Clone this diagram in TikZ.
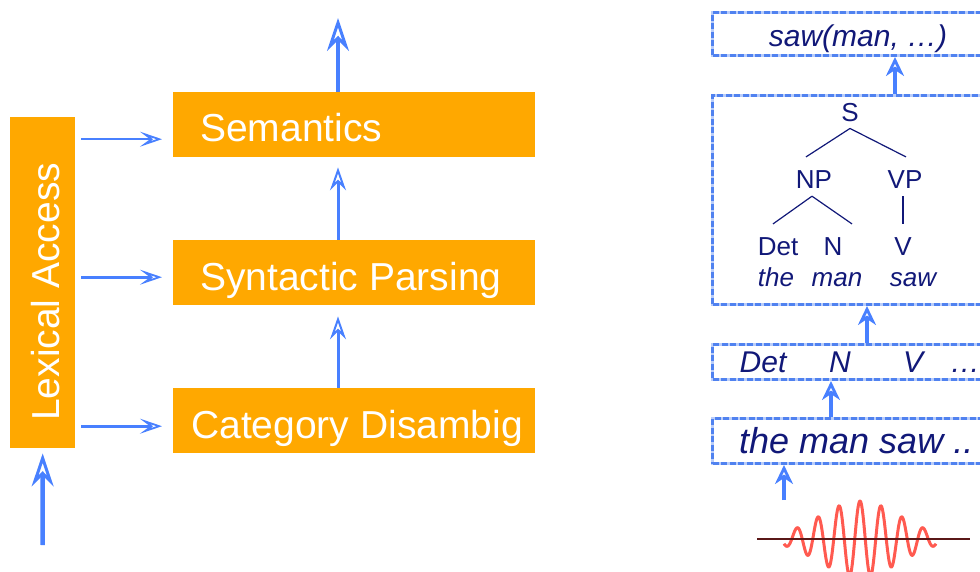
\documentclass[tikz,border=0pt]{standalone}
\usepackage{fontspec}
\setmainfont{Liberation Sans}
\usetikzlibrary{arrows.meta}
\definecolor{boxorange}{RGB}{255,168,0}
\definecolor{flowblue}{RGB}{72,128,255}
\definecolor{dashblue}{RGB}{80,130,240}
\definecolor{dashpale}{RGB}{185,205,250}
\definecolor{inkblue}{RGB}{17,24,120}
\definecolor{wavered}{RGB}{255,90,80}
\definecolor{axisbrown}{RGB}{90,24,24}
\begin{document}
\begin{tikzpicture}[x=1pt,y=-1pt,
  stage/.style={fill=boxorange, draw=none, inner sep=0pt, anchor=north west,
    minimum width=362pt, minimum height=65pt},
  stagetext/.style={text=white, font=\fontsize{39}{39}\selectfont, inner sep=0pt, anchor=base west},
  feed/.style={flowblue, line width=2.6pt,
    -{Stealth[open,length=22pt,width=15pt,inset=10pt,line width=1.8pt]}},
  upflow/.style={flowblue, line width=3pt,
    -{Stealth[open,length=23pt,width=16pt,inset=8pt,line width=2pt]}},
  bigflow/.style={flowblue, line width=4.5pt,
    -{Stealth[open,length=33pt,width=22pt,inset=11pt,line width=3pt]}},
  rightflow/.style={flowblue, line width=4.5pt,
    -{Stealth[open,length=19pt,width=18pt,inset=6pt,line width=2.8pt]}},
  dbox/.style={draw=dashpale, line width=3pt, anchor=north west, inner sep=0pt,
    minimum width=279pt,
    postaction={draw=dashblue, line width=3pt, dash pattern=on 6pt off 2.5pt}},
  tlabel/.style={text=inkblue, font=\fontsize{26}{26}\selectfont, inner sep=0pt, anchor=base},
  tword/.style={tlabel, font=\fontsize{26}{26}\selectfont\itshape},
  rowtext/.style={text=inkblue, font=\fontsize{30}{30}\selectfont\itshape, inner sep=0pt},
  branch/.style={draw=inkblue, line width=1.2pt},
]
\useasboundingbox (0,0) rectangle (980,572);
\clip (0,0) rectangle (980,572);

% ---------- processing pipeline ----------
\node[fill=boxorange, inner sep=0pt, anchor=north west, minimum width=65pt, minimum height=331pt] (lex) at (10,117) {};
\node[stagetext, rotate=90] (lexT) at (59,421) {Lexical Access};

\node[stage] (sem) at (173,92) {};
\node[stagetext] (semT) at (200,142) {Semantics};
\node[stage] (syn) at (173,240) {};
\node[stagetext] (synT) at (200,290) {Syntactic Parsing};
\node[stage] (cat) at (173,388) {};
\node[stagetext] (catT) at (191,438) {Category Disambig};

% lexical lookups feed every stage
\draw[feed] ([shift={(6,14.5)}]lex.east |- sem.west) -- ([shift={(-11,14.5)}]sem.west);
\draw[feed] ([shift={(6,4.5)}]lex.east |- syn.west) -- ([shift={(-11,4.5)}]syn.west);
\draw[feed] ([shift={(6,5.5)}]lex.east |- cat.west) -- ([shift={(-11,5.5)}]cat.west);

% stage to stage
\draw[upflow] ([xshift=165pt]cat.north west) -- ([shift={(165,11)}]syn.south west);
\draw[upflow] ([xshift=165pt]syn.north west) -- ([shift={(165,10)}]sem.south west);

% input and output
\coordinate (lexin) at (42.5,545);
\coordinate (semout) at (338,18);
\draw[bigflow] (lexin) -- ([shift={(0,5)}]lex.south);
\draw[bigflow] ([xshift=165pt]sem.north west) -- (semout);

% ---------- worked example ----------
\node[dbox, minimum height=43pt] (logic) at (711,11) {};
\node[dbox, minimum height=209pt] (tree) at (711,94) {};
\node[dbox, minimum height=35pt] (tags) at (711,343) {};
\node[dbox, minimum height=45pt] (words) at (711,417) {};

\node[rowtext, anchor=base] (logicT) at (858,47) {saw(man, …)};

\node[tlabel] (S) at (850,122) {S};
\node[tlabel] (NP) at (814,189) {NP};
\node[tlabel] (VP) at (905,189) {VP};
\node[tlabel] (Det) at (778,255) {Det};
\node[tlabel] (N) at (833,255) {N};
\node[tlabel] (V) at (903,255) {V};
\node[tword] (wThe) at (776,287) {the};
\node[tword] (wMan) at (837,287) {man};
\node[tword] (wSaw) at (913,287) {saw};
\draw[branch] ([yshift=-6pt]S.south) -- ([shift={(-8,-14)}]NP.north);
\draw[branch] ([yshift=-6pt]S.south) -- ([shift={(1,-14)}]VP.north);
\draw[branch] ([shift={(-2,7)}]NP.south) -- ([shift={(-5,-13)}]Det.north);
\draw[branch] ([shift={(-2,7)}]NP.south) -- ([shift={(19,-13)}]N.north);
\draw[branch] ([shift={(-2,7)}]VP.south) -- ([shift={(0,-13)}]V.north);

\node[rowtext, anchor=base] (tDet) at (763,372) {Det};
\node[rowtext, anchor=base] (tN) at (840,372) {N};
\node[rowtext, anchor=base] (tV) at (913,372) {V};
\node[rowtext, anchor=base west] (tMore) at (950,372) {…};

\node[text=inkblue, font=\fontsize{36}{36}\selectfont\itshape, inner sep=0pt, anchor=base west] (wordsT) at (739,453) {the man saw ..};

\draw[rightflow] ([xshift=184pt]tree.north west) -- ([xshift=184pt]logic.south west);
\draw[rightflow] ([xshift=156pt]tags.north west) -- ([xshift=156pt]tree.south west);
\draw[rightflow] ([xshift=120pt]words.north west) -- ([xshift=120pt]tags.south west);
\coordinate (speechin) at (784,500);
\draw[rightflow] (speechin) -- ([xshift=73pt]words.south west);

% speech signal: a gaussian-windowed cosine centred at x = 860
\draw[wavered, line width=3pt, line join=round]
  plot[domain=-76:76, samples=320, smooth]
  ({860+\x}, {539 - 38*exp(-(\x/57)^2)*cos(17.142857*\x)});
\draw[axisbrown, line width=2.5pt] (757,539) -- (970,539);
\end{tikzpicture}
\end{document}
